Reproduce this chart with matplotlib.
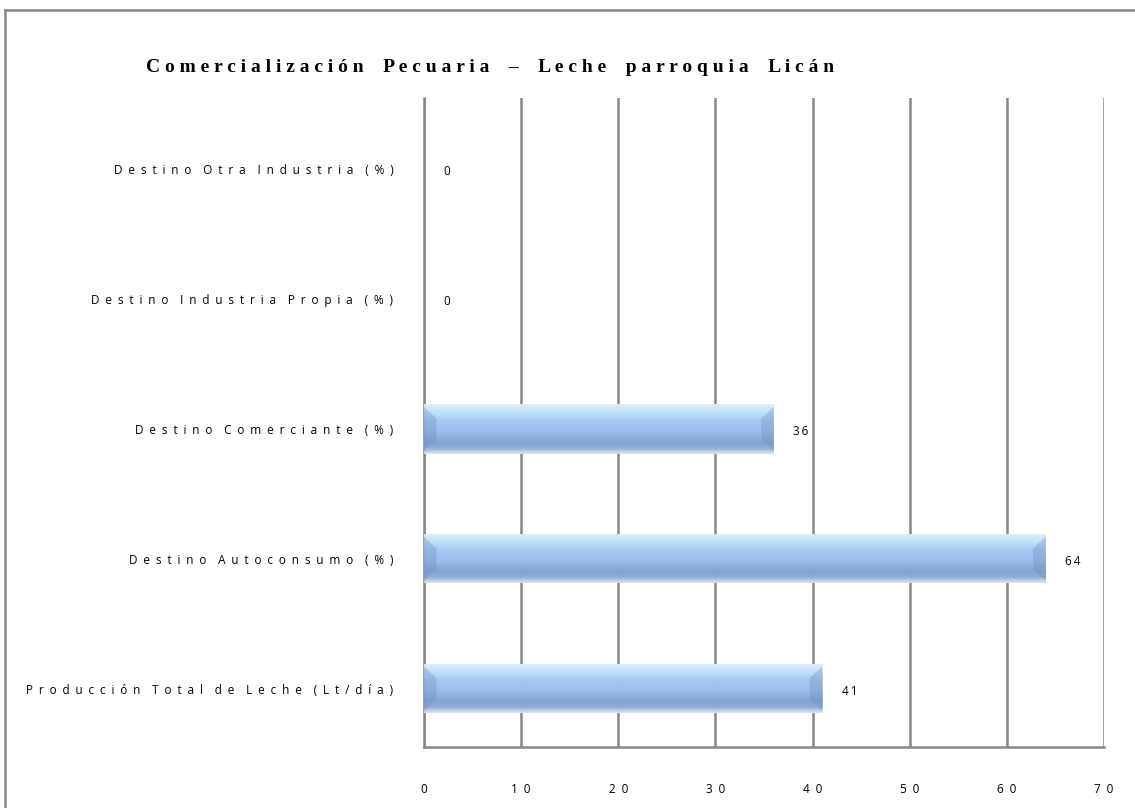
import matplotlib
matplotlib.use('Agg')
import matplotlib.pyplot as plt
import numpy as np
from matplotlib.colors import to_rgb
from matplotlib.lines import Line2D
from matplotlib.patches import Polygon

# data, bottom to top
categories = ['Producción Total de Leche (Lt/día)', 'Destino Autoconsumo (%)',
              'Destino Comerciante (%)', 'Destino Industria Propia (%)',
              'Destino Otra Industria (%)']
values = [41, 64, 36, 0, 0]
xticks = [0, 10, 20, 30, 40, 50, 60, 70]
title = 'Comercialización Pecuaria – Leche parroquia Licán'


def spaced(s, sep=' ', wsep=None):
    # imitate the wide letter spacing of the original
    if wsep is None:
        wsep = sep * 2
    words = s.split(' ')
    return wsep.join(sep.join(list(w)) for w in words)


plt.rcParams['font.family'] = ['Open Sans', 'DejaVu Sans']

W, H = 1135, 808
fig = plt.figure(figsize=(W / 100, H / 100), dpi=100)
ax = fig.add_axes([424 / W, 61 / H, 680 / W, 649 / H])

# outer chart frame (only left and top edges are inside the picture)
fx, fy = 4.5 / W, 1 - 10 / H
fig.add_artist(Line2D([fx, fx], [0, fy], transform=fig.transFigure,
                      color='#878787', lw=1.8))
fig.add_artist(Line2D([fx, 1], [fy, fy], transform=fig.transFigure,
                      color='#878787', lw=1.8))

ypos = np.arange(len(categories))
h = 0.38

# vertical gradient for the bars (bottom -> top)
grad_cols = ['#dfe8f4', '#8eacd6', '#7f9fcb', '#8aaedb', '#98bfec',
             '#9fc5ef', '#a6cbf1', '#bcddf9', '#d2eafc', '#e6f4fe']
grad = np.array([to_rgb(c) for c in grad_cols])
n = 60
t = np.linspace(0, 1, n)
src = np.linspace(0, 1, len(grad_cols))
img = np.stack([np.interp(t, src, grad[:, k]) for k in range(3)], axis=-1)
img = img[:, None, :]

bw = 1.3   # bevel width in data units
for y, v in zip(ypos, values):
    if v > 0:
        bar = ax.barh(y, v, height=h, color='#9cc3ef', edgecolor='none',
                      alpha=0.9, zorder=2)[0]
        im = ax.imshow(img, extent=(0, v, y - h / 2, y + h / 2), origin='lower',
                       aspect='auto', alpha=0.88, zorder=3, interpolation='bilinear')
        im.set_clip_path(bar)
        b0, b1 = y - h / 2 + 0.06, y + h / 2 - 0.06
        ax.add_patch(Polygon([(0, b0 - 0.04), (bw, b0 + 0.05), (bw, b1 - 0.05), (0, b1 + 0.04)],
                             closed=True, color='#6d8fc0', alpha=0.35, lw=0, zorder=4))
        ax.add_patch(Polygon([(v, b0 - 0.04), (v - bw, b0 + 0.05), (v - bw, b1 - 0.05), (v, b1 + 0.04)],
                             closed=True, color='#6d8fc0', alpha=0.35, lw=0, zorder=4))
    ax.text(v + 2.0, y - 0.02, spaced(str(v), '\u2009'), va='center', ha='left',
            fontsize=8.5, color='black', zorder=5)

ax.set_xlim(0, 70)
ax.set_ylim(-0.45, 4.55)
ax.set_xticks(xticks)
ax.set_xticklabels([spaced(str(x), '\u2002') for x in xticks], fontsize=8.5)
ax.set_yticks(ypos)
ax.set_yticklabels([spaced(c, '\u2002') for c in categories], fontsize=8.5)
ax.tick_params(axis='x', length=0, pad=26)
ax.tick_params(axis='y', length=0, pad=22)

ax.xaxis.grid(True, color='#878787', lw=1.8, zorder=1)
ax.set_axisbelow(True)
for side in ['top', 'right']:
    ax.spines[side].set_visible(False)
for side in ['left', 'bottom']:
    ax.spines[side].set_color('#878787')
    ax.spines[side].set_linewidth(1.8)

fig.text(146 / W, 1 - 68 / H, spaced(title, ' ', '    '), fontsize=14, fontweight='bold',
         family=['Liberation Serif', 'DejaVu Serif'], va='center', ha='left')

fig.savefig('out.png', dpi=100)
